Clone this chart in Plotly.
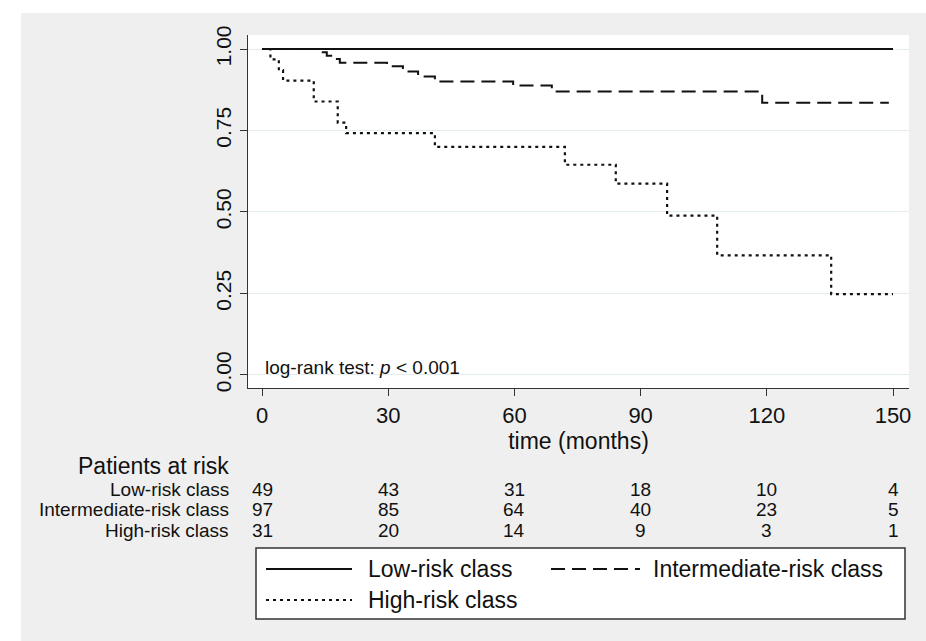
import plotly.graph_objects as go

# ---- Kaplan-Meier step data ----
low_t = [0, 150]
low_s = [1.0, 1.0]

int_t = [0, 13.8, 15.4, 17.4, 18.5, 29.7, 33.5, 37.1, 41.1, 59.7, 68.9, 118.9, 149]
int_s = [1.0, 0.990, 0.979, 0.969, 0.958, 0.947, 0.931, 0.916, 0.900, 0.888, 0.870, 0.835, 0.835]

high_t = [0, 2, 4, 5, 12.3, 18, 20, 41.1, 72, 84.1, 96.3, 108.2, 135.3, 150]
high_s = [1.0, 0.968, 0.935, 0.903, 0.839, 0.774, 0.742, 0.700, 0.645, 0.587, 0.489, 0.367, 0.248, 0.248]

# ---- Patients at risk table ----
risk_times = [0, 30, 60, 90, 120, 150]
low_risk = [49, 43, 31, 18, 10, 4]
int_risk = [97, 85, 64, 40, 23, 5]
high_risk = [31, 20, 14, 9, 3, 1]
group_names = ["Low-risk class", "Intermediate-risk class", "High-risk class"]

x_ticks = [0, 30, 60, 90, 120, 150]
y_ticks = [0, 0.25, 0.5, 0.75, 1.0]
y_ticktext = ["0.00", "0.25", "0.50", "0.75", "1.00"]

FONT = "Liberation Sans, Arial, sans-serif"
INK = "#111111"
BG = "#efefef"

W, H = 926, 641
ML, MR, MT, MB = 248, 17, 35, 253
PW, PH = W - ML - MR, H - MT - MB


def px_x(p):
    return (p - ML) / PW


def px_y(p):
    return (H - MB - p) / PH


dash_int = "14px,7px"
dash_high = "3px,4px"

fig = go.Figure()
fig.add_trace(go.Scatter(x=low_t, y=low_s, mode="lines", line_shape="hv",
                         line=dict(color=INK, width=2), name=group_names[0], showlegend=False))
fig.add_trace(go.Scatter(x=int_t, y=int_s, mode="lines", line_shape="hv",
                         line=dict(color=INK, width=2, dash=dash_int), name=group_names[1], showlegend=False))
fig.add_trace(go.Scatter(x=high_t, y=high_s, mode="lines", line_shape="hv",
                         line=dict(color=INK, width=2.2, dash=dash_high), name=group_names[2], showlegend=False))

annotations = []
shapes = []

# white strips around gray graph region
shapes.append(dict(type="rect", xref="paper", yref="paper", x0=px_x(0), x1=px_x(W), y0=px_y(13), y1=px_y(0),
                   fillcolor="white", line_width=0, layer="below"))
shapes.append(dict(type="rect", xref="paper", yref="paper", x0=px_x(0), x1=px_x(21), y0=px_y(H), y1=px_y(0),
                   fillcolor="white", line_width=0, layer="below"))

# log-rank text
annotations.append(dict(x=px_x(263), y=px_y(367), xref="paper", yref="paper", xanchor="left", yanchor="middle",
                        text="log-rank test: <i>p</i> &lt; 0.001", showarrow=False,
                        font=dict(family=FONT, size=19, color=INK)))

# patients at risk table
annotations.append(dict(x=px_x(231), y=px_y(466), xref="paper", yref="paper", xanchor="right", yanchor="middle",
                        text="Patients at risk", showarrow=False, font=dict(family=FONT, size=23, color=INK)))
row_py = [489, 509, 530]
for name, vals, py in zip(group_names, [low_risk, int_risk, high_risk], row_py):
    annotations.append(dict(x=px_x(231), y=px_y(py), xref="paper", yref="paper", xanchor="right",
                            yanchor="middle", text=name, showarrow=False,
                            font=dict(family=FONT, size=19, color=INK)))
    for t, v in zip(risk_times, vals):
        annotations.append(dict(x=t, y=px_y(py), xref="x", yref="paper", xanchor="center", yanchor="middle",
                                text=str(v), showarrow=False, font=dict(family=FONT, size=19, color=INK)))

# legend (drawn manually)
shapes.append(dict(type="rect", xref="paper", yref="paper", x0=px_x(256), x1=px_x(905), y0=px_y(619), y1=px_y(548),
                   fillcolor="white", line=dict(color="#333333", width=1.5)))
leg_items = [
    (group_names[0], "solid", 266, 352, 366, 569),
    (group_names[1], dash_int, 551, 640, 651, 569),
    (group_names[2], dash_high, 266, 352, 366, 600),
]
for name, dash, lx0, lx1, tx, py in leg_items:
    shapes.append(dict(type="line", xref="paper", yref="paper", x0=px_x(lx0), x1=px_x(lx1), y0=px_y(py), y1=px_y(py),
                       line=dict(color=INK, width=2, dash=dash)))
    annotations.append(dict(x=px_x(tx), y=px_y(py), xref="paper", yref="paper", xanchor="left", yanchor="middle",
                            text=name, showarrow=False, font=dict(family=FONT, size=23, color=INK)))

fig.update_layout(
    width=W, height=H, autosize=False,
    margin=dict(l=ML, r=MR, t=MT, b=MB, pad=0),
    paper_bgcolor=BG, plot_bgcolor="white",
    font=dict(family=FONT, color=INK),
    showlegend=False,
    annotations=annotations, shapes=shapes,
)
fig.update_xaxes(range=[-3.33, 153.8], tickmode="array", tickvals=x_ticks, ticktext=[str(v) for v in x_ticks],
                 ticks="outside", ticklen=7, tickwidth=1.3, tickcolor="#333333",
                 showline=True, linecolor="#333333", linewidth=1.3, showgrid=False, zeroline=False,
                 tickfont=dict(family=FONT, size=22, color=INK),
                 title=dict(text="time (months)", font=dict(family=FONT, size=23, color=INK), standoff=6))
fig.update_yaxes(range=[-0.040, 1.043], tickmode="array", tickvals=y_ticks, ticktext=y_ticktext, tickangle=-90,
                 ticks="outside", ticklen=7, tickwidth=1.3, tickcolor="#333333",
                 showline=True, linecolor="#333333", linewidth=1.3, showgrid=True, gridcolor="#e4eded",
                 gridwidth=1.2, zeroline=False,
                 tickfont=dict(family=FONT, size=21, color=INK))

fig.write_html("out.html", config={"displayModeBar": False},
               post_script="document.body.style.margin='0';document.body.style.padding='0';")
